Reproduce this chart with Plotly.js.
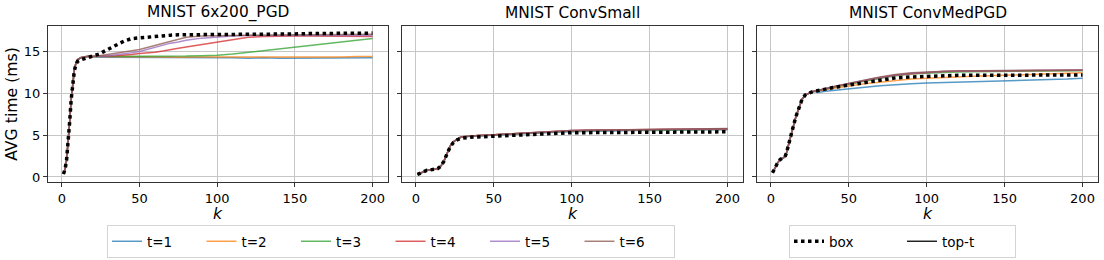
<!DOCTYPE html>
<html>
<head>
<meta charset="utf-8">
<script src="https://cdn.plot.ly/plotly-3.0.1.min.js"></script>
<style>html,body{margin:0;padding:0;background:#fff;}#chart{width:1104px;height:260px;}</style>
</head>
<body>
<div id="chart"></div>
<script>
// ---- data ----
const K = [1,2,3,4,5,6,7,8,9,10,12,14,16,18,20,22,24,26,28,30,35,40,45,50,55,60,65,70,75,80,90,100,110,120,130,140,150,160,170,180,190,200];

const panelTitles = ['MNIST 6x200_PGD', 'MNIST ConvSmall', 'MNIST ConvMedPGD'];
const seriesNames = ['t=1','t=2','t=3','t=4','t=5','t=6'];
const xTicks = [0,50,100,150,200];
const yTicks = [0,5,10,15];
const xTitle = 'k';
const yTitle = 'AVG time (ms)';

// Panel 1: MNIST 6x200_PGD  (shared rise k=1..20, then per-series values k=22..200)
const p1Rise = [0.35,0.9,2.0,3.9,6.6,9.3,11.4,12.8,13.6,14.0,14.25,14.35,14.4,14.4,14.4];
const p1_t1 = [14.35,14.3,14.3,14.3,14.3,14.3,14.3,14.25,14.3,14.3,14.25,14.3,14.25,14.3,14.25,14.3,14.25,14.25,14.2,14.25,14.2,14.2,14.2,14.2,14.25,14.2,14.25];
const p1_t2 = [14.4,14.4,14.4,14.4,14.4,14.4,14.35,14.4,14.35,14.35,14.4,14.35,14.35,14.3,14.35,14.35,14.35,14.3,14.35,14.3,14.3,14.3,14.35,14.3,14.35,14.4,14.4];
const p1_t3 = [14.4,14.4,14.4,14.4,14.4,14.4,14.4,14.4,14.4,14.4,14.4,14.45,14.4,14.45,14.45,14.5,14.55,14.7,14.9,15.1,15.3,15.5,15.75,15.95,16.15,16.35,16.55];
const p1_t4 = [14.4,14.4,14.4,14.45,14.45,14.5,14.55,14.65,14.75,14.8,14.9,15.05,15.25,15.4,15.55,15.85,16.15,16.45,16.7,16.8,16.85,16.85,16.85,16.85,16.85,16.8,16.8];
const p1_t5 = [14.4,14.4,14.45,14.45,14.5,14.6,14.7,14.85,15.0,15.25,15.5,15.8,16.0,16.15,16.35,16.6,16.75,16.85,16.9,16.9,16.9,16.9,16.9,16.9,16.9,16.9,16.9];
const p1_t6 = [14.45,14.5,14.55,14.6,14.65,14.8,14.95,15.1,15.25,15.5,15.75,16.0,16.25,16.5,16.7,16.85,16.9,16.95,16.95,16.95,17.0,17.0,17.0,17.0,17.0,17.05,17.05];
const p1_box = [0.35,0.9,2.0,3.9,6.6,9.3,11.4,12.7,13.4,13.8,14.0,14.1,14.2,14.3,14.4,14.55,14.7,14.9,15.1,15.3,15.8,16.25,16.55,16.65,16.75,16.85,16.9,16.95,17.0,17.0,17.0,17.05,17.05,17.05,17.1,17.1,17.1,17.15,17.15,17.15,17.2,17.2];

// Panel 2: MNIST ConvSmall (shared rise k=1..30, then k=35..200)
const p2Rise = [0.3,0.4,0.5,0.6,0.7,0.75,0.8,0.8,0.82,0.85,0.9,1.0,1.3,1.9,2.8,3.7,4.2,4.5,4.7,4.8];
const p2_t1 = [4.85,4.9,4.95,5.0,5.05,5.1,5.15,5.2,5.25,5.3,5.35,5.4,5.45,5.5,5.5,5.55,5.55,5.6,5.6,5.62,5.65,5.65];
const p2_t2 = [4.9,4.95,5.0,5.05,5.1,5.15,5.2,5.25,5.3,5.35,5.45,5.5,5.55,5.6,5.6,5.62,5.65,5.65,5.68,5.7,5.7,5.72];
const p2_t3 = [4.9,4.95,5.0,5.05,5.1,5.15,5.2,5.25,5.3,5.35,5.45,5.5,5.55,5.55,5.6,5.6,5.62,5.62,5.65,5.65,5.68,5.7];
const p2_t4 = [4.9,4.95,5.0,5.05,5.1,5.2,5.25,5.3,5.35,5.4,5.5,5.55,5.6,5.6,5.65,5.65,5.68,5.7,5.7,5.72,5.75,5.75];
const p2_t5 = [4.9,4.95,5.0,5.05,5.12,5.2,5.25,5.3,5.35,5.4,5.5,5.55,5.6,5.62,5.65,5.68,5.7,5.72,5.72,5.75,5.78,5.78];
const p2_t6 = [4.9,4.95,5.0,5.05,5.1,5.2,5.25,5.3,5.35,5.4,5.5,5.55,5.6,5.62,5.65,5.68,5.7,5.7,5.72,5.75,5.78,5.8];
const p2_box = [0.3,0.4,0.5,0.6,0.7,0.75,0.8,0.8,0.82,0.85,0.9,1.0,1.3,1.9,2.8,3.6,4.1,4.4,4.55,4.65,4.75,4.8,4.85,4.9,4.95,5.0,5.05,5.1,5.15,5.2,5.25,5.3,5.3,5.3,5.32,5.35,5.35,5.35,5.38,5.4,5.4,5.4];

// Panel 3: MNIST ConvMedPGD (shared rise k=1..28, then k=30..200)
const p3Rise = [0.5,0.8,1.2,1.6,1.9,2.1,2.2,2.3,2.4,2.9,4.2,5.8,7.2,8.3,9.3,9.8,10.0,10.15,10.25];
const p3_t1 = [10.1,10.25,10.35,10.5,10.6,10.68,10.75,10.82,10.9,10.98,11.05,11.15,11.25,11.3,11.35,11.4,11.42,11.45,11.5,11.55,11.6,11.7,11.8];
const p3_t2 = [10.25,10.45,10.6,10.75,10.9,11.05,11.15,11.25,11.35,11.45,11.55,11.7,11.8,11.9,12.0,12.05,12.1,12.15,12.2,12.25,12.3,12.4,12.45];
const p3_t3 = [10.3,10.5,10.7,10.9,11.1,11.25,11.45,11.6,11.8,11.95,12.1,12.3,12.4,12.5,12.55,12.58,12.6,12.6,12.62,12.65,12.65,12.68,12.7];
const p3_t4 = [10.35,10.55,10.75,10.95,11.15,11.3,11.5,11.7,11.85,12.0,12.15,12.35,12.5,12.6,12.65,12.68,12.7,12.7,12.7,12.72,12.72,12.75,12.75];
const p3_t5 = [10.35,10.6,10.8,11.0,11.2,11.35,11.55,11.75,11.9,12.05,12.2,12.4,12.55,12.62,12.68,12.7,12.7,12.72,12.72,12.72,12.75,12.75,12.78];
const p3_t6 = [10.35,10.6,10.8,11.0,11.2,11.35,11.55,11.75,11.95,12.1,12.25,12.45,12.55,12.65,12.7,12.7,12.72,12.72,12.72,12.75,12.75,12.78,12.8];
const p3_box = [0.5,0.8,1.2,1.6,1.9,2.1,2.2,2.3,2.4,2.9,4.2,5.8,7.2,8.3,9.3,9.8,10.0,10.15,10.25,10.3,10.5,10.7,10.85,11.0,11.15,11.3,11.45,11.6,11.72,11.85,11.95,12.05,12.1,12.15,12.15,12.15,12.15,12.17,12.17,12.18,12.2,12.2];

// ---- assemble ----
const panels = [
  {rise: p1Rise, t: [p1_t1,p1_t2,p1_t3,p1_t4,p1_t5,p1_t6], box: p1_box},
  {rise: p2Rise, t: [p2_t1,p2_t2,p2_t3,p2_t4,p2_t5,p2_t6], box: p2_box},
  {rise: p3Rise, t: [p3_t1,p3_t2,p3_t3,p3_t4,p3_t5,p3_t6], box: p3_box}
];
const colors = ['#1f77b4','#ff7f0e','#2ca02c','#d62728','#9467bd','#8c564b'];
const FONT = 'DejaVu Sans, Liberation Sans, sans-serif';
const INK = '#000';

const traces = [];
panels.forEach((p, pi) => {
  const xa = pi === 0 ? 'x' : 'x' + (pi + 1);
  const ya = pi === 0 ? 'y' : 'y' + (pi + 1);
  p.t.forEach((tail, si) => {
    traces.push({
      type: 'scatter', mode: 'lines', x: K, y: p.rise.concat(tail),
      xaxis: xa, yaxis: ya, name: seriesNames[si], legendgroup: seriesNames[si],
      showlegend: pi === 0, legend: 'legend',
      line: {color: colors[si], width: 1.5}, opacity: 0.75, hoverinfo: 'skip'
    });
  });
  traces.push({
    type: 'scatter', mode: 'lines', x: K, y: p.box,
    xaxis: xa, yaxis: ya, name: 'box', legendgroup: 'box',
    showlegend: pi === 0, legend: 'legend2',
    line: {color: '#000', width: 3.5, dash: '3.5px,3.5px'}, hoverinfo: 'skip'
  });
});
// legend-only handle for "top-t"
traces.push({
  type: 'scatter', mode: 'lines', x: [null], y: [null], xaxis: 'x', yaxis: 'y',
  name: 'top-t', legend: 'legend2', line: {color: '#222', width: 1.5}, hoverinfo: 'skip'
});

const W = 1104, H = 260;
const xDomains = [[48/W, 388/W], [402/W, 743/W], [757/W, 1098/W]];
const yDomain = [1 - 182/H, 1 - 26/H];

function xaxisDef(i) {
  return {
    domain: xDomains[i], anchor: i === 0 ? 'y' : 'y' + (i + 1),
    range: [-8.95, 209.95], tickvals: xTicks, ticktext: xTicks.map(String),
    ticks: 'outside', ticklen: 4, tickcolor: '#333', tickwidth: 1,
    showline: true, mirror: true, linecolor: '#333', linewidth: 1,
    showgrid: true, gridcolor: '#c6c6c6', gridwidth: 1, zeroline: false,
    tickfont: {family: FONT, size: 13, color: INK}
  };
}
function yaxisDef(i) {
  const d = {
    domain: yDomain, anchor: i === 0 ? 'x' : 'x' + (i + 1),
    range: [-0.6, 18.05], tickvals: yTicks, ticktext: yTicks.map(String),
    ticks: 'outside', ticklen: 4, tickcolor: '#333', tickwidth: 1,
    showline: true, mirror: true, linecolor: '#333', linewidth: 1,
    showgrid: true, gridcolor: '#c6c6c6', gridwidth: 1, zeroline: false,
    tickfont: {family: FONT, size: 13, color: INK}
  };
  if (i === 0) {
    d.title = {text: yTitle, font: {family: FONT, size: 15.7, color: INK}, standoff: 2};
  } else {
    d.showticklabels = false;
    d.matches = 'y';
  }
  return d;
}

const annotations = panelTitles.map((t, i) => ({
  text: t, xref: 'paper', yref: 'paper',
  x: (xDomains[i][0] + xDomains[i][1]) / 2, y: yDomain[1],
  xanchor: 'center', yanchor: 'bottom', yshift: 2, showarrow: false,
  font: {family: FONT, size: 15.4, color: INK}
})).concat(xDomains.map(d => ({
  text: '<i>' + xTitle + '</i>', xref: 'paper', yref: 'paper',
  x: (d[0] + d[1]) / 2, y: 1 - 213/H,
  xanchor: 'center', yanchor: 'middle', showarrow: false, borderpad: 0,
  font: {family: FONT, size: 15.7, color: INK}
})));

const layout = {
  width: W, height: H,
  margin: {l: 0, r: 0, t: 0, b: 0, autoexpand: false},
  paper_bgcolor: '#fff', plot_bgcolor: '#fff',
  font: {family: FONT, size: 13, color: INK},
  xaxis: xaxisDef(0), xaxis2: xaxisDef(1), xaxis3: xaxisDef(2),
  yaxis: yaxisDef(0), yaxis2: yaxisDef(1), yaxis3: yaxisDef(2),
  annotations: annotations,
  showlegend: true,
  legend: {
    orientation: 'h', xref: 'container', yref: 'container',
    x: 107/W, y: 1 - 225/H, xanchor: 'left', yanchor: 'top',
    bordercolor: '#d4d4d4', borderwidth: 1, bgcolor: '#fff',
    entrywidth: 49.5, entrywidthmode: 'pixels', itemwidth: 30,
    font: {family: FONT, size: 13.5, color: INK}
  },
  legend2: {
    orientation: 'h', xref: 'container', yref: 'container',
    x: 789/W, y: 1 - 225/H, xanchor: 'left', yanchor: 'top',
    bordercolor: '#d4d4d4', borderwidth: 1, bgcolor: '#fff',
    entrywidth: 68, entrywidthmode: 'pixels', itemwidth: 30,
    font: {family: FONT, size: 13.5, color: INK}
  }
};

Plotly.newPlot('chart', traces, layout, {staticPlot: true, displayModeBar: false});
</script>
</body>
</html>
